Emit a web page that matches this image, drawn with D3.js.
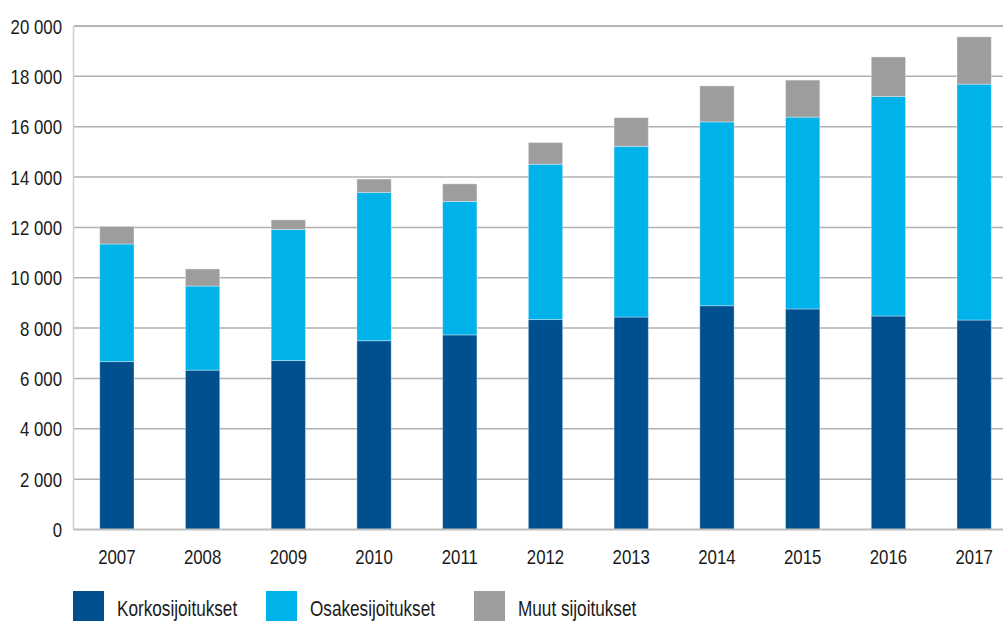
<!DOCTYPE html>
<html lang="fi">
<head>
  <meta charset="UTF-8">
  <title>Sijoitukset 2007–2017</title>
  <script src="https://d3js.org/d3.v7.min.js"></script>
  <style>
    body { margin: 0; background: #fff; }
    svg { display: block; font-family: "Liberation Sans", Arial, sans-serif; }
    .tick-label { font-size: 21px; fill: #1a1a1a; }
    .legend-label { font-size: 22px; fill: #1a1a1a; }
  </style>
</head>
<body>
  <svg width="1003" height="621"></svg>

  <script>
    const years = ["2007", "2008", "2009", "2010", "2011", "2012", "2013", "2014", "2015", "2016", "2017"];
    const korko = [6670, 6330, 6710, 7500, 7730, 8340, 8440, 8890, 8760, 8480, 8320];
    const osake = [4670, 3340, 5210, 5890, 5300, 6170, 6780, 7300, 7620, 8720, 9370];
    const muut  = [700, 680, 380, 530, 700, 860, 1140, 1430, 1470, 1570, 1880];
    const yTicks = [0, 2000, 4000, 6000, 8000, 10000, 12000, 14000, 16000, 18000, 20000];

    const seriesNames = ["Korkosijoitukset", "Osakesijoitukset", "Muut sijoitukset"];
    const colors = ["#00508f", "#00b2ea", "#9d9d9d"];

    const rows = years.map((y, i) => ({ year: y, k: korko[i], o: osake[i], m: muut[i] }));
    const stacked = d3.stack().keys(["k", "o", "m"])(rows);

    const svg = d3.select("svg");

    const x = d3.scaleBand()
      .domain(years)
      .range([74, 1017])
      .paddingInner(0.6)
      .paddingOuter(0.3);

    const y = d3.scaleLinear()
      .domain([0, 20000])
      .range([529.5, 26]);

    // condensed look: squeeze each text horizontally
    function narrow(sel, k) {
      sel.each(function() {
        const w = this.getComputedTextLength();
        d3.select(this)
          .attr("textLength", w * k)
          .attr("lengthAdjust", "spacingAndGlyphs");
      });
    }

    // gridlines
    svg.append("g")
      .selectAll("line")
      .data(yTicks.filter(d => d > 0))
      .join("line")
        .attr("x1", 74)
        .attr("x2", 1003)
        .attr("y1", d => y(d))
        .attr("y2", d => y(d))
        .attr("stroke", d => d === 20000 ? "#9c9c9c" : "#b0b0b0")
        .attr("stroke-width", 1.5);

    // left axis line
    svg.append("line")
      .attr("x1", 73.5).attr("x2", 73.5)
      .attr("y1", y(20000)).attr("y2", y(0))
      .attr("stroke", "#cfcfcf")
      .attr("stroke-width", 1.5);

    // bars
    svg.append("g")
      .selectAll("g")
      .data(stacked)
      .join("g")
        .attr("fill", (d, i) => colors[i])
      .selectAll("rect")
      .data(d => d)
      .join("rect")
        .attr("x", d => x(d.data.year))
        .attr("y", d => y(d[1]))
        .attr("width", x.bandwidth())
        .attr("height", d => y(d[0]) - y(d[1]))
        .attr("stroke", "rgba(255,255,255,0.35)")
        .attr("stroke-width", 1);

    // baseline
    svg.append("line")
      .attr("x1", 73.5).attr("x2", 1003)
      .attr("y1", y(0)).attr("y2", y(0))
      .attr("stroke", "#bdbdbd")
      .attr("stroke-width", 2);

    // y labels
    const fmt = d => d3.format(",")(d).replace(/,/g, " ");
    svg.append("g")
      .selectAll("text")
      .data(yTicks)
      .join("text")
        .attr("class", "tick-label")
        .attr("x", 62)
        .attr("y", d => y(d))
        .attr("dy", "0.36em")
        .attr("text-anchor", "end")
        .text(fmt)
        .call(narrow, 0.8);

    // x labels
    svg.append("g")
      .selectAll("text")
      .data(years)
      .join("text")
        .attr("class", "tick-label")
        .attr("x", d => x(d) + x.bandwidth() / 2)
        .attr("y", 564)
        .attr("text-anchor", "middle")
        .text(d => d)
        .call(narrow, 0.8);

    // legend
    const legendX = [73, 266, 474];
    const legend = svg.append("g")
      .selectAll("g")
      .data(seriesNames)
      .join("g")
        .attr("transform", (d, i) => `translate(${legendX[i]},591)`);

    legend.append("rect")
      .attr("width", 31)
      .attr("height", 31)
      .attr("fill", (d, i) => colors[i]);

    legend.append("text")
      .attr("class", "legend-label")
      .attr("x", 44)
      .attr("y", 25)
      .text(d => d)
      .call(narrow, 0.78);
  </script>
</body>
</html>
